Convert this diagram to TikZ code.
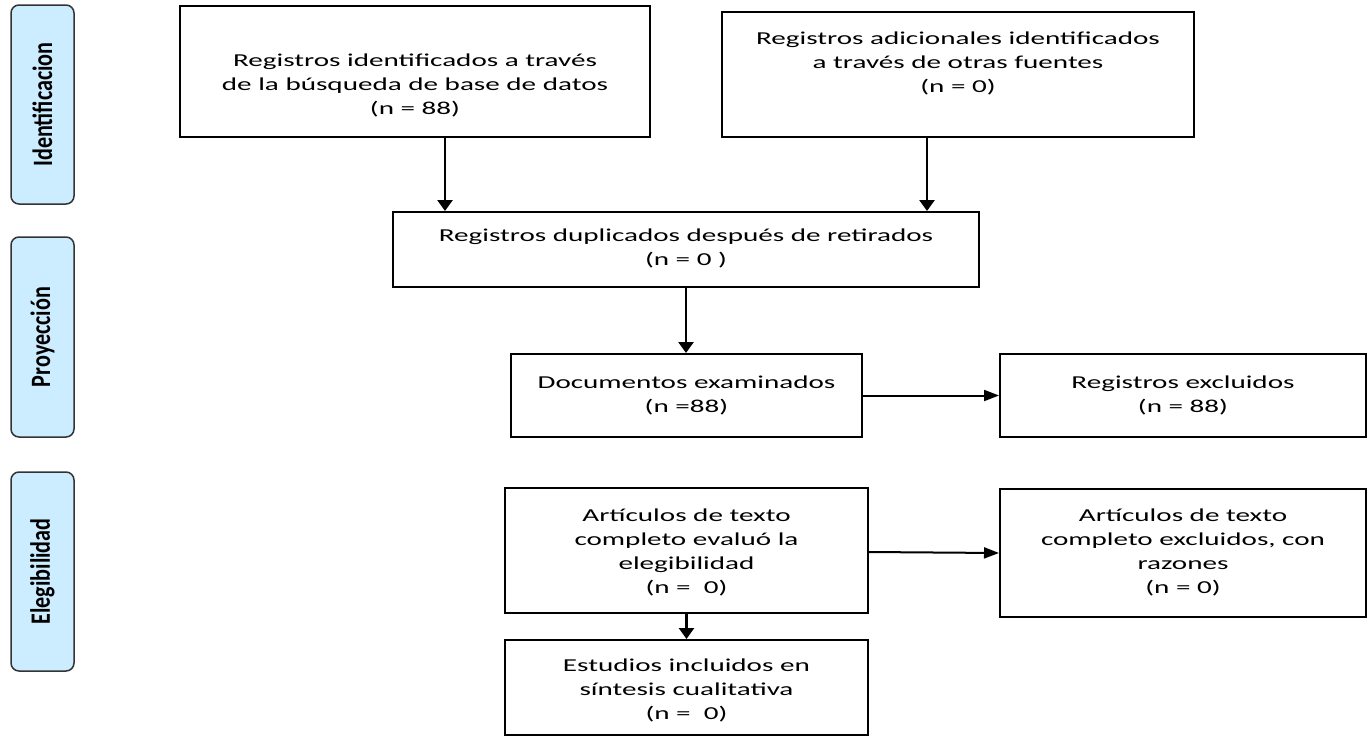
\documentclass[tikz,border=0pt]{standalone}
\usepackage{fontspec}
\usetikzlibrary{arrows.meta,calc}
\newfontfamily\bodyfont[FakeStretch=1.6]{Carlito}
\newfontfamily\sidefont[FakeStretch=0.79]{Carlito}
\definecolor{sidefill}{HTML}{CCECFF}
\definecolor{sideline}{HTML}{333333}
\tikzset{
  box/.style={draw=black, line width=2pt, rectangle, inner sep=0pt},
  sidebox/.style={draw=sideline, fill=sidefill, line width=1.5pt, rounded corners=8pt, inner sep=0pt,
    minimum width=63pt},
  sidetxt/.style={rotate=90, font={\sidefont\bfseries\fontsize{28}{30}\selectfont}, inner sep=0pt},
  txt/.style={align=center, inner sep=0pt, font={\bodyfont\fontsize{18.2}{24}\selectfont}},
  varr/.style={line width=2.6pt, -{Triangle[length=11pt,width=15pt]}},
  harr/.style={line width=2pt, -{Triangle[length=15pt,width=11pt]}}
}
\begin{document}
\begin{tikzpicture}[x=1pt,y=-1pt]
\useasboundingbox (0,0) rectangle (1370,736);
% side labels
\node[sidebox, minimum height=199pt] (s1) at (42.5,104.5) {};
\node[sidetxt] (s1t) at (s1.center) {Identificacion};
\node[sidebox, minimum height=200pt] (s2) at (42.5,337) {};
\node[sidetxt] (s2t) at (s2.center) {Proyección};
\node[sidebox, minimum height=199pt] (s3) at (42.5,571.5) {};
\node[sidetxt] (s3t) at (s3.center) {Elegibilidad};
% boxes
\node[box, minimum width=470pt, minimum height=131pt] (A) at (415,71.5) {};
\node[box, minimum width=472pt, minimum height=125pt] (B) at (958,74.5) {};
\node[box, minimum width=586pt, minimum height=75pt] (C) at (686,249.5) {};
\node[box, minimum width=351pt, minimum height=83pt] (D) at (686.5,395.5) {};
\node[box, minimum width=366pt, minimum height=83pt] (E) at (1183,395.5) {};
\node[box, minimum width=363pt, minimum height=125pt] (F) at (686.5,550.5) {};
\node[box, minimum width=366pt, minimum height=128pt] (G) at (1183,553) {};
\node[box, minimum width=363pt, minimum height=95pt] (H) at (686.5,687.5) {};
% texts
\node[txt] (tA) at (415,85) {Registros identificados a través\\de la búsqueda de base de datos\\(n = 88)};
\node[txt] (tB) at (958,63) {Registros adicionales identificados\\a través de otras fuentes\\(n = 0)};
\node[txt] (tC) at (686,248) {Registros duplicados después de retirados\\(n = 0 )};
\node[txt] (tD) at (686.5,395.5) {Documentos examinados\\(n =88)};
\node[txt] (tE) at (1183,395.5) {Registros excluidos\\(n = 88)};
\node[txt] (tF) at (686.5,552) {Artículos de texto\\completo evaluó la\\elegibilidad\\(n = \ 0)};
\node[txt] (tG) at (1183,552) {Artículos de texto\\completo excluidos, con\\razones\\(n = 0)};
\node[txt] (tH) at (686.5,690) {Estudios incluidos en\\síntesis cualitativa\\(n = \ 0)};
% arrows
\draw[varr] ([xshift=30pt]A.south) -- ([xshift=30pt]A.south |- C.north);
\draw[varr] ([xshift=-31pt]B.south) -- ([xshift=-31pt]B.south |- C.north);
\draw[varr] (C.south) -- (C.south |- D.north);
\draw[harr] (D.east) -- (E.west);
\draw[harr] ([yshift=-1.5pt]F.east) -- (G.west);
\draw[varr] (F.south) -- (F.south |- H.north);
\end{tikzpicture}
\end{document}
